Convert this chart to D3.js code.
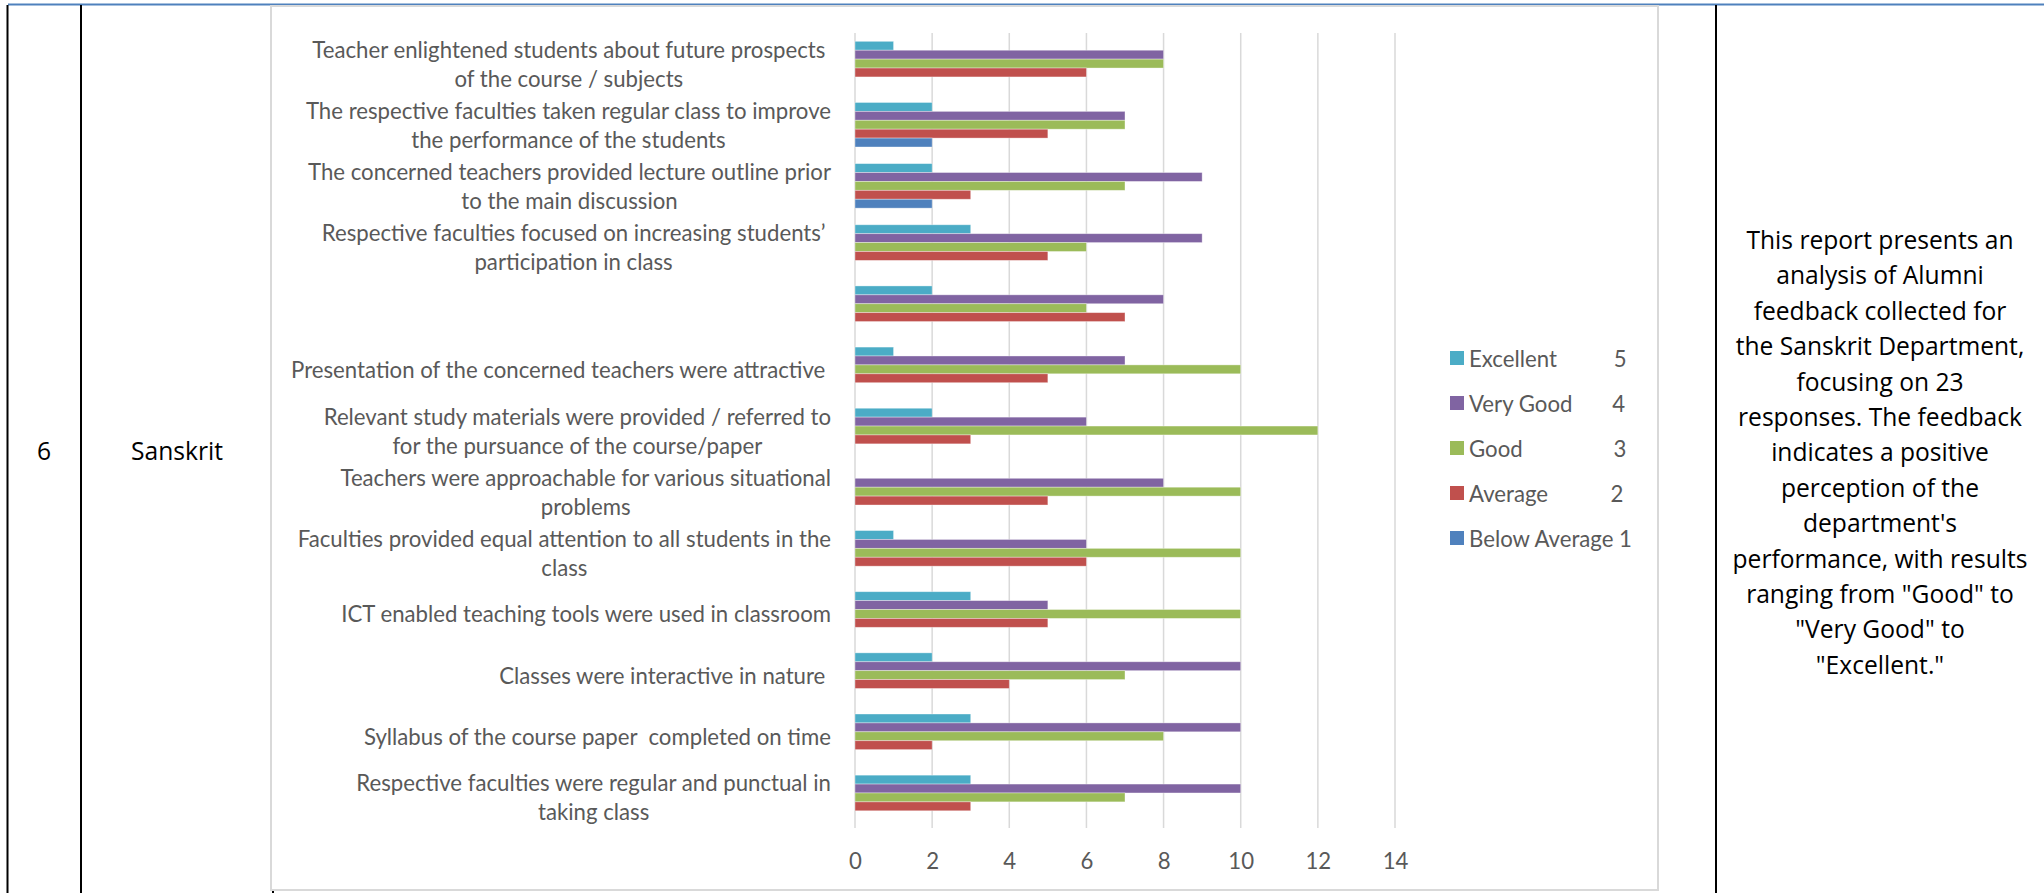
<!DOCTYPE html>
<html><head><meta charset="utf-8">
<script src="https://cdn.jsdelivr.net/npm/d3@7/dist/d3.min.js"></script>
<style>html,body{margin:0;padding:0;background:#fff;} svg{display:block;} text{white-space:pre;}</style>
</head><body>
<svg id="c" width="2044" height="893"></svg>
<script>
// ---------- data ----------
const categories = [
  ["Teacher enlightened students about future prospects ", "of the course / subjects "],
  ["The respective faculties taken regular class to improve", "the performance of the students"],
  ["The concerned teachers provided lecture outline prior", "to the main discussion"],
  ["Respective faculties focused on increasing students\u2019 ", "participation in class "],
  [""],
  ["Presentation of the concerned teachers were attractive "],
  ["Relevant study materials were provided / referred to", "for the pursuance of the course/paper"],
  ["Teachers were approachable for various situational", "problems"],
  ["Faculties provided equal attention to all students in the", "class"],
  ["ICT enabled teaching tools were used in classroom"],
  ["Classes were interactive in nature "],
  ["Syllabus of the course paper  completed on time"],
  ["Respective faculties were regular and punctual in", "taking class"]
];
const seriesNames = ["Excellent", "Very Good", "Good", "Average", "Below Average"];
const legendLabels = ["Excellent          5", "Very Good       4", "Good                3", "Average           2", "Below Average 1"];
const excellent    = [1, 2, 2, 3, 2, 1, 2, 0, 1, 3, 2, 3, 3];
const veryGood     = [8, 7, 9, 9, 8, 7, 6, 8, 6, 5, 10, 10, 10];
const good         = [8, 7, 7, 6, 6, 10, 12, 10, 10, 10, 7, 8, 7];
const average      = [6, 5, 3, 5, 7, 5, 3, 5, 6, 5, 4, 2, 3];
const belowAverage = [0, 2, 2, 0, 0, 0, 0, 0, 0, 0, 0, 0, 0];
const xTicks = [0, 2, 4, 6, 8, 10, 12, 14];
const rowNumber = "6";
const department = "Sanskrit";
const summaryLines = [
  "This report presents an",
  "analysis of Alumni",
  "feedback collected for",
  "the Sanskrit Department,",
  "focusing on 23",
  "responses. The feedback",
  "indicates a positive",
  "perception of the",
  "department's",
  "performance, with results",
  "ranging from \"Good\" to",
  "\"Very Good\" to",
  "\"Excellent.\""
];

// ---------- styles ----------
const seriesValues = [excellent, veryGood, good, average, belowAverage];
const colors = ["#4BACC6", "#8064A2", "#9BBB59", "#C0504D", "#4F81BD"];
const chartFont = "Lato, 'Open Sans', sans-serif";
const docFont = "'Open Sans', 'Noto Sans', sans-serif";
const textGray = "#595959";

const svg = d3.select("#c");

// font fitting helper
function fitSize(font, str, target, base) {
  const t = svg.append("text").attr("font-family", font).attr("font-size", base).text(str);
  const w = t.node().getComputedTextLength();
  t.remove();
  return base * target / w;
}
const chartSize = fitSize(chartFont, "ICT enabled teaching tools were used in classroom", 490, 24);
const docSize = fitSize(docFont, "performance, with results", 295, 26);

// ---------- table frame ----------
svg.append("line").attr("x1", 8).attr("x2", 2044).attr("y1", 4.5).attr("y2", 4.5)
  .attr("stroke", "#4F81BD").attr("stroke-width", 2);
[7.5, 81, 1716].forEach(x => {
  svg.append("line").attr("x1", x).attr("x2", x).attr("y1", 5).attr("y2", 893)
    .attr("stroke", "#000").attr("stroke-width", 2);
});
svg.append("line").attr("x1", 273).attr("x2", 273).attr("y1", 886).attr("y2", 893)
  .attr("stroke", "#000").attr("stroke-width", 2);

svg.append("text").attr("x", 44).attr("y", 450).attr("text-anchor", "middle")
  .attr("dominant-baseline", "central").attr("font-family", docFont).attr("font-size", docSize)
  .attr("fill", "#000").text(rowNumber);
svg.append("text").attr("x", 177).attr("y", 450).attr("text-anchor", "middle")
  .attr("dominant-baseline", "central").attr("font-family", docFont).attr("font-size", docSize)
  .attr("fill", "#000").text(department);

svg.append("g").selectAll("text").data(summaryLines).join("text")
  .attr("x", 1880).attr("y", (d, i) => 249 + i * 35.4)
  .attr("text-anchor", "middle").attr("font-family", docFont).attr("font-size", docSize)
  .attr("fill", "#000").text(d => d);

// ---------- chart box ----------
svg.append("rect").attr("x", 271).attr("y", 6).attr("width", 1387).attr("height", 884)
  .attr("fill", "#fff").attr("stroke", "#D9D9D9").attr("stroke-width", 2);

const x = d3.scaleLinear().domain([0, 14]).range([855, 1395]);
const y0 = d3.scaleBand().domain(d3.range(categories.length)).range([33, 828])
  .paddingInner(0.272).paddingOuter(0.136);
const y1 = d3.scaleBand().domain(seriesNames).range([0, y0.bandwidth()]);

// gridlines
svg.append("g").selectAll("line").data(xTicks).join("line")
  .attr("x1", d => x(d)).attr("x2", d => x(d)).attr("y1", 33).attr("y2", 828)
  .attr("stroke", "#D9D9D9").attr("stroke-width", 1.5);

// x axis labels via d3 axis
const xAxis = d3.axisBottom(x).tickValues(xTicks).tickSize(0).tickPadding(0);
const gx = svg.append("g").attr("transform", "translate(0,853)").call(xAxis);
gx.select(".domain").remove();
gx.selectAll("text").attr("font-family", chartFont).attr("font-size", chartSize)
  .attr("fill", textGray).attr("dy", "0.71em");

// bars
const groups = svg.append("g").selectAll("g").data(categories).join("g")
  .attr("transform", (d, i) => `translate(0,${y0(i)})`);
groups.selectAll("rect").data((d, i) => seriesNames.map((s, k) => ({s, k, v: seriesValues[k][i]})))
  .join("rect")
  .attr("x", x(0)).attr("y", d => y1(d.s))
  .attr("width", d => x(d.v) - x(0)).attr("height", y1.bandwidth())
  .attr("fill", d => colors[d.k])
  .attr("stroke", d => d.v > 0 ? "rgba(255,255,255,0.45)" : "none").attr("stroke-width", 0.8);

// category labels (lines centred in a block right-aligned to the axis)
const lineH = 29;
const labelRight = 831;
const lab = svg.append("g").attr("font-family", chartFont).attr("font-size", chartSize).attr("fill", textGray);
categories.forEach((lines, i) => {
  const cy = y0(i) + y0.bandwidth() / 2;
  const widths = lines.map(l => {
    const t = lab.append("text").text(l);
    const w = t.node().getComputedTextLength();
    t.remove();
    return w;
  });
  const bw = d3.max(widths);
  const cx = labelRight - bw / 2;
  lines.forEach((l, j) => {
    lab.append("text").attr("x", cx).attr("y", cy + (j - (lines.length - 1) / 2) * lineH)
      .attr("text-anchor", "middle").attr("dominant-baseline", "central").text(l);
  });
});

// legend
const leg = svg.append("g").selectAll("g").data(legendLabels).join("g")
  .attr("transform", (d, i) => `translate(1450,${358 + i * 45})`);
leg.append("rect").attr("x", 0).attr("y", -7).attr("width", 14).attr("height", 14)
  .attr("fill", (d, i) => colors[i]);
leg.append("text").attr("x", 19).attr("y", 0).attr("dominant-baseline", "central")
  .attr("font-family", chartFont).attr("font-size", chartSize).attr("fill", textGray).text(d => d);
</script>
</body></html>
